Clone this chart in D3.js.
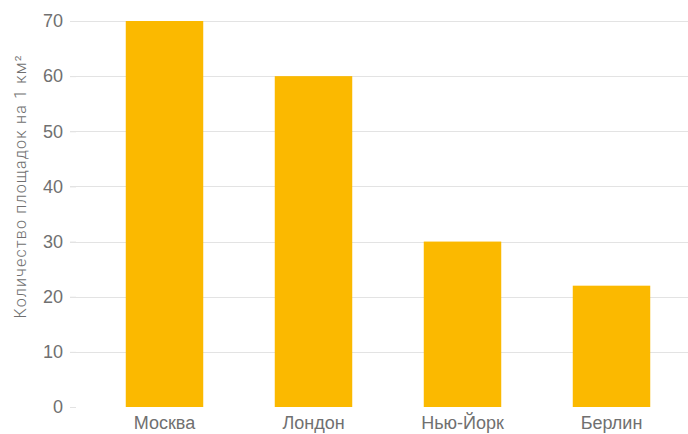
<!DOCTYPE html>
<html>
<head>
<meta charset="utf-8">
<script src="https://cdn.jsdelivr.net/npm/d3@7"></script>
<style>
  body { margin: 0; background: #fff; }
  svg { display: block; font-family: "Roboto", "Liberation Sans", sans-serif; font-weight: 300; }
</style>
</head>
<body>
<div id="chart"></div>
<script>
// Playgrounds per square kilometre, by city
const cities = ["Москва", "Лондон", "Нью-Йорк", "Берлин"];
const values = [70, 60, 30, 22];
const yTicks = [0, 10, 20, 30, 40, 50, 60, 70];
const yTitle = "Количество площадок на 1 км²";

const width = 688, height = 434;
const margin = { top: 21, right: 0, bottom: 27, left: 76 };
const textColor = "#707070";

const svg = d3.select("#chart").append("svg")
  .attr("width", width).attr("height", height);

const x = d3.scaleBand()
  .domain(cities)
  .range([90, 686])
  .paddingInner(0.48)
  .paddingOuter(0.24);

const y = d3.scaleLinear()
  .domain([0, 70])
  .range([height - margin.bottom, margin.top]);

// Horizontal gridlines (none at zero)
svg.append("g")
  .selectAll("line")
  .data(yTicks.filter(d => d !== 0))
  .join("line")
  .attr("x1", 70).attr("x2", width)
  .attr("y1", d => Math.round(y(d)) + 0.5)
  .attr("y2", d => Math.round(y(d)) + 0.5)
  .attr("stroke", "#e3e3e3")
  .attr("stroke-width", 1);

// Y axis
const yAxis = svg.append("g")
  .attr("transform", "translate(76,0)")
  .call(d3.axisLeft(y).tickValues(yTicks).tickSize(6).tickPadding(7).tickFormat(d3.format("d")));
yAxis.select(".domain").remove();
yAxis.selectAll(".tick line").attr("stroke", "#e3e3e3");
yAxis.selectAll(".tick text")
  .attr("fill", textColor)
  .style("font-size", "18px");

// Bars
svg.append("g")
  .selectAll("rect")
  .data(cities.map((c, i) => ({ city: c, value: values[i] })))
  .join("rect")
  .attr("x", d => x(d.city))
  .attr("width", x.bandwidth())
  .attr("y", d => y(d.value))
  .attr("height", d => y(0) - y(d.value))
  .attr("fill", "#fbb900");

// X axis labels
const xAxis = svg.append("g")
  .attr("transform", `translate(0,${height - margin.bottom})`)
  .call(d3.axisBottom(x).tickSize(0).tickPadding(9));
xAxis.select(".domain").remove();
xAxis.selectAll(".tick text")
  .attr("fill", textColor)
  .style("font-size", "18px");

// Y axis title
svg.append("text")
  .attr("transform", `translate(26,${(y(0) + y(70)) / 2 - 27}) rotate(-90)`)
  .attr("text-anchor", "middle")
  .attr("fill", textColor)
  .style("font-size", "16px")
  .attr("textLength", 263)
  .attr("lengthAdjust", "spacing")
  .text(yTitle);
</script>
</body>
</html>
